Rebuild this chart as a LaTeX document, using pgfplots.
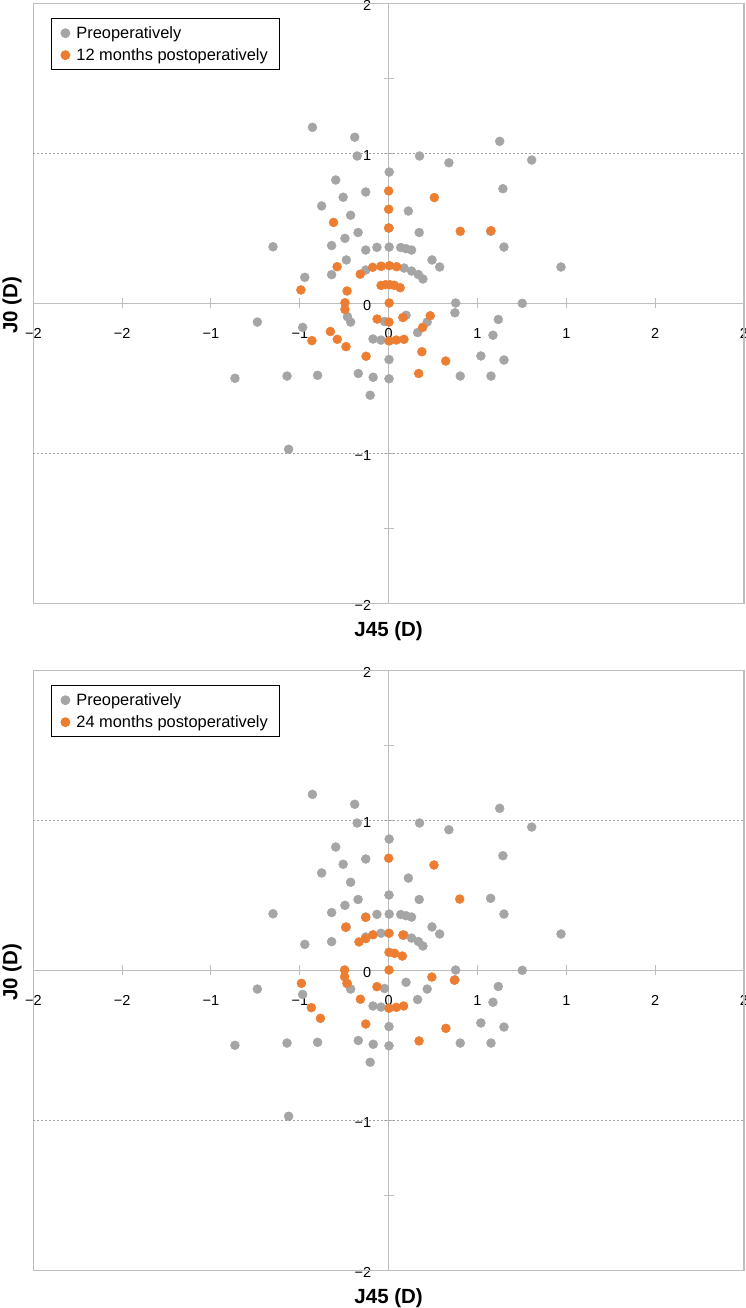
\documentclass[border=0pt]{standalone}
\usepackage{pgfplots}
\pgfplotsset{compat=1.18}
\usepackage{fontspec}
\setmainfont{Liberation Sans}
\definecolor{pgray}{HTML}{A5A5A5}
\definecolor{porange}{HTML}{ED7D31}
\definecolor{axgray}{HTML}{BDBDBD}
\definecolor{gridgray}{HTML}{A0A0A0}

\pgfplotstableread{
x y
-0.429 1.173
-0.191 1.107
0.625 1.080
-0.177 0.982
0.174 0.982
0.805 0.955
0.339 0.937
0.003 0.875
-0.298 0.822
0.643 0.764
-0.129 0.742
-0.256 0.707
-0.377 0.649
0.111 0.615
-0.214 0.587
-0.172 0.472
0.172 0.472
-0.246 0.433
-0.651 0.377
-0.321 0.385
-0.129 0.355
-0.066 0.373
0.003 0.375
0.068 0.372
0.098 0.364
0.129 0.355
0.649 0.375
0.244 0.289
-0.238 0.289
0.287 0.242
0.970 0.242
0.087 0.235
0.129 0.215
0.167 0.192
0.193 0.162
-0.321 0.191
-0.472 0.173
-0.129 0.222
0.377 0.002
0.752 0.000
0.373 -0.063
0.617 -0.108
0.587 -0.213
0.098 -0.080
0.217 -0.125
0.163 -0.195
-0.088 -0.238
-0.043 -0.245
0.002 -0.375
0.519 -0.351
0.649 -0.378
0.403 -0.485
0.576 -0.485
-0.087 -0.493
0.002 -0.503
-0.171 -0.468
-0.400 -0.480
-0.572 -0.485
-0.865 -0.500
-0.104 -0.613
-0.563 -0.973
-0.739 -0.125
-0.484 -0.161
-0.232 -0.089
-0.214 -0.125
0.002 0.502
-0.043 0.247
-0.023 -0.121
0.574 0.480
}\preop

\pgfplotstableread{
x y
0.000 0.749
0.257 0.705
0.000 0.627
-0.310 0.539
0.000 0.502
0.403 0.480
0.576 0.484
-0.290 0.244
-0.160 0.194
-0.090 0.240
-0.042 0.247
0.004 0.251
0.045 0.244
-0.043 0.119
-0.017 0.124
0.007 0.124
0.032 0.120
0.065 0.104
-0.494 0.089
-0.234 0.082
0.003 0.002
-0.246 0.004
-0.246 -0.041
-0.065 -0.105
0.080 -0.095
0.234 -0.083
0.191 -0.161
0.002 -0.125
-0.328 -0.188
-0.289 -0.240
-0.432 -0.249
-0.240 -0.289
0.002 -0.251
0.043 -0.245
0.086 -0.240
0.187 -0.323
-0.127 -0.353
0.321 -0.385
0.169 -0.468
}\posttwelve

\pgfplotstableread{
x y
0.000 0.747
0.255 0.702
0.400 0.475
-0.129 0.353
-0.242 0.287
-0.167 0.189
-0.129 0.211
-0.088 0.237
0.002 0.247
0.080 0.235
0.002 0.120
0.034 0.113
0.077 0.095
0.002 0.002
-0.248 0.002
-0.248 -0.043
-0.235 -0.087
-0.491 -0.087
-0.435 -0.249
-0.384 -0.320
-0.159 -0.193
-0.066 -0.109
-0.129 -0.358
0.002 -0.253
0.043 -0.247
0.084 -0.238
0.243 -0.045
0.370 -0.066
0.322 -0.387
0.171 -0.471
}\posttwentyfour

\tikzset{ttl/.style={font=\bfseries\fontsize{20.5}{23}\selectfont}}

\pgfplotsset{
  myaxis/.style={
    set layers,
    scale only axis,
    width=710.7pt, height=600pt,
    anchor=south west,
    xmin=-2, xmax=2, ymin=-2, ymax=2,
    enlargelimits=false,
    clip=false,
    axis lines=middle,
    every inner x axis line/.append style={-},
    every inner y axis line/.append style={-},
    axis line style={draw=axgray, line width=1.2pt},
    hide obscured x ticks=false,
    hide obscured y ticks=false,
    xtick={-2,-1.5,-1,-0.5,0,0.5,1,1.5,2},
    xticklabels={−2,−2,−1,−1,0,1,1,2,2},
    ytick={-2,-1,0,1,2},
    yticklabels={−2,−1,0,1,2},
    minor y tick num=1,
    tick align=center,
    major tick length=10pt,
    minor tick length=10pt,
    tick style={draw=axgray, line width=1pt},
    xticklabel style={font=\fontsize{14.5}{17}\selectfont, anchor=center, yshift=-25pt},
    yticklabel style={font=\fontsize{14.5}{17}\selectfont, anchor=east, xshift=-9pt, yshift=-2pt},
    legend cell align=left,
    legend image code/.code={\draw[#1] plot coordinates {(0pt,0pt)};},
    legend style={at={(0.0245,0.975)}, anchor=north west,
      draw=black, line width=0.8pt, fill=white,
      font=\fontsize{16.4}{19}\selectfont,
      inner xsep=9.8pt, inner ysep=5.8pt, row sep=4.6pt, column sep=4.5pt,
      nodes={inner sep=2pt}},
  },
  pre/.style={only marks, mark=*, mark size=4.5pt, mark options={draw=pgray, fill=pgray}},
  post/.style={only marks, mark=*, mark size=4.5pt, mark options={draw=porange, fill=porange}},
}

\begin{document}
\begin{tikzpicture}

\begin{axis}[myaxis, at={(33.3pt,-603.3pt)}]
  \draw[axgray, line width=1.2pt] (rel axis cs:0,0) rectangle (rel axis cs:1,1);
  \draw[gridgray, line width=0.8pt, dash pattern=on 2pt off 2pt] (axis cs:-2,1) -- (axis cs:2,1);
  \draw[gridgray, line width=0.8pt, dash pattern=on 2pt off 2pt] (axis cs:-2,-1) -- (axis cs:2,-1);
  \addplot[pre] table[x=x, y=y] {\preop};
  \addlegendentry{Preoperatively}
  \addplot[post] table[x=x, y=y] {\posttwelve};
  \addlegendentry{12 months postoperatively}
  \node[ttl] at ([yshift=-28pt]rel axis cs:0.5,0) {J45 (D)};
  \node[ttl, rotate=90] at ([xshift=-21.3pt, yshift=-1.7pt]rel axis cs:0,0.5) {J0 (D)};
\end{axis}

\begin{axis}[myaxis, at={(33.3pt,-1270.3pt)}]
  \draw[axgray, line width=1.2pt] (rel axis cs:0,0) rectangle (rel axis cs:1,1);
  \draw[gridgray, line width=0.8pt, dash pattern=on 2pt off 2pt] (axis cs:-2,1) -- (axis cs:2,1);
  \draw[gridgray, line width=0.8pt, dash pattern=on 2pt off 2pt] (axis cs:-2,-1) -- (axis cs:2,-1);
  \addplot[pre] table[x=x, y=y] {\preop};
  \addlegendentry{Preoperatively}
  \addplot[post] table[x=x, y=y] {\posttwentyfour};
  \addlegendentry{24 months postoperatively}
  \node[ttl] at ([yshift=-28pt]rel axis cs:0.5,0) {J45 (D)};
  \node[ttl, rotate=90] at ([xshift=-21.3pt, yshift=-1.7pt]rel axis cs:0,0.5) {J0 (D)};
\end{axis}

\pgfresetboundingbox
\path[use as bounding box] (0pt,0pt) rectangle (745pt,-1308pt);
\end{tikzpicture}
\end{document}
